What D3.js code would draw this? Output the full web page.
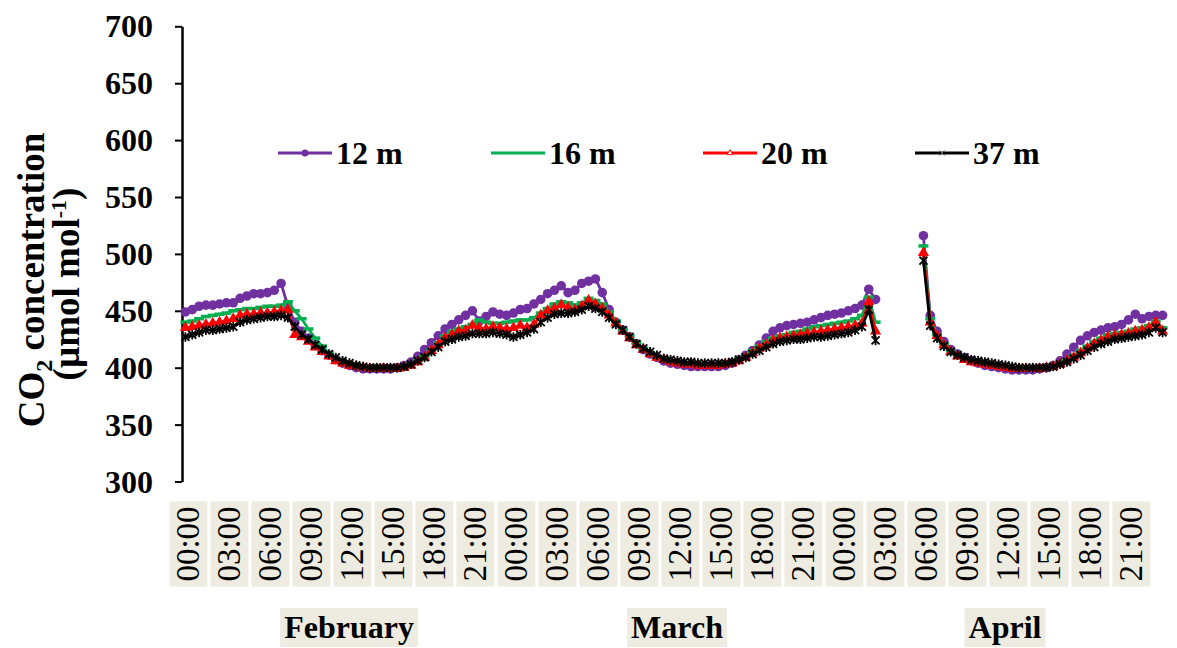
<!DOCTYPE html>
<html>
<head>
<meta charset="utf-8">
<script src="https://cdn.jsdelivr.net/npm/d3@7"></script>
<style>
  html, body { margin: 0; padding: 0; background: #fff; }
  svg { display: block; font-family: 'Liberation Serif', 'Times New Roman', serif; }
</style>
</head>
<body>
<svg id="chart"></svg>
<script>
// categories: three days, half-hourly points, labelled every 3 h
const months = ['February', 'March', 'April'];
const tickLabels = ['00:00', '03:00', '06:00', '09:00', '12:00', '15:00', '18:00', '21:00'];
const pointsPerDay = 48;
const yTicks = [300, 350, 400, 450, 500, 550, 600, 650, 700];

// CO2 (µmol mol-1), one value per half hour, null = gap
const s12 = [
  449, 451, 454, 455, 455, 456, 457, 457, 461, 463,
  465, 465, 466, 468, 474, 454, 440, 432, 426, 420,
  415, 411, 407, 404, 402, 400, 399, 399, 399, 399,
  399, 400, 402, 405, 410, 416, 422, 428, 434, 438,
  442, 446, 450, 441, 445, 449, 447, 446, 448, 451,
  452, 456, 460, 465, 468, 472, 466, 468, 474, 476,
  478, 466, 451, 440, 433, 427, 421, 416, 412, 409,
  406, 404, 403, 402, 401, 401, 401, 401, 401, 402,
  404, 407, 411, 415, 420, 426, 432, 435, 437, 438,
  439, 440, 442, 444, 446, 447, 448, 450, 452, 455,
  469, 460, null, null, null, null, null, null, 516, 446,
  432, 423, 416, 412, 409, 406, 404, 402, 401, 400,
  399, 398, 398, 398, 398, 399, 400, 402, 406, 412,
  418, 424, 428, 431, 433, 435, 436, 438, 442, 447,
  443, 445, 446, 446
];
const s16 = [
  440, 441, 443, 445, 446, 447, 448, 450, 451, 452,
  452, 453, 454, 454, 455, 458, 450, 443, 434, 426,
  419, 413, 408, 405, 403, 401, 400, 400, 400, 400,
  400, 400, 401, 403, 406, 410, 416, 422, 428, 432,
  434, 436, 438, 442, 440, 439, 439, 440, 441, 442,
  442, 444, 448, 452, 456, 458, 457, 455, 457, 461,
  459, 456, 449, 441, 434, 428, 422, 417, 413, 410,
  408, 406, 405, 404, 404, 403, 403, 403, 403, 404,
  405, 408, 411, 415, 419, 423, 426, 428, 429, 431,
  432, 434, 436, 437, 438, 439, 440, 441, 443, 446,
  462, 440, null, null, null, null, null, null, 507, 443,
  429, 421, 415, 411, 408, 406, 405, 404, 403, 402,
  401, 400, 400, 400, 400, 400, 401, 402, 404, 407,
  411, 415, 419, 423, 426, 429, 430, 431, 432, 434,
  435, 437, 441, 435
];
const s20 = [
  435, 436, 437, 438, 439, 440, 441, 443, 446, 447,
  447, 448, 448, 449, 450, 451, 429, 427, 423, 418,
  414, 410, 406, 404, 402, 401, 400, 399, 399, 399,
  399, 399, 400, 402, 405, 409, 415, 420, 426, 429,
  432, 433, 437, 435, 434, 436, 435, 434, 435, 437,
  435, 438, 446, 450, 452, 455, 453, 451, 454, 459,
  456, 452, 446, 439, 432, 426, 420, 416, 412, 409,
  407, 405, 404, 403, 403, 402, 402, 402, 402, 403,
  404, 406, 409, 413, 417, 420, 424, 426, 427, 428,
  429, 430, 431, 432, 433, 434, 435, 436, 437, 439,
  458, 432, null, null, null, null, null, null, 501, 440,
  428, 420, 414, 410, 407, 405, 404, 403, 402, 401,
  400, 399, 399, 399, 399, 399, 400, 401, 403, 406,
  409, 413, 417, 421, 424, 427, 428, 429, 430, 432,
  433, 435, 440, 432
];
const s37 = [
  427, 429, 431, 433, 433, 434, 435, 436, 440, 442,
  443, 444, 445, 445, 446, 444, 436, 429, 425, 420,
  416, 412, 409, 406, 404, 402, 401, 400, 400, 400,
  400, 400, 401, 403, 406, 409, 414, 418, 423, 425,
  427, 428, 430, 430, 430, 431, 430, 429, 427, 429,
  431, 434, 440, 444, 447, 448, 448, 449, 451, 454,
  452, 449, 444, 438, 433, 427, 421, 417, 414, 411,
  408, 407, 406, 405, 405, 404, 404, 404, 404, 404,
  405, 407, 409, 412, 415, 418, 421, 423, 424, 425,
  425, 426, 427, 427, 428, 429, 430, 431, 433, 436,
  451, 424, null, null, null, null, null, null, 494, 437,
  426, 419, 414, 411, 409, 407, 406, 405, 404, 403,
  402, 401, 400, 400, 400, 400, 400, 401, 403, 405,
  408, 411, 415, 418, 421, 423, 425, 426, 427, 428,
  429, 431, 435, 431
];
const seriesNames = ['12 m', '16 m', '20 m', '37 m'];

const width = 1177;
const height = 648;
const marginLeft = 182;
const plotRight = 1166;
const plotTop = 26.3;
const plotBottom = 481.5;
const labelShift = 3; // Excel puts the category labels a bit right of the point centres
const boxFill = '#EEECE1';

const series = [
  { name: seriesNames[0], values: s12, color: '#7030A0', marker: 'circle' },
  { name: seriesNames[1], values: s16, color: '#00B050', marker: 'dash' },
  { name: seriesNames[2], values: s20, color: '#FF0000', marker: 'triangle' },
  { name: seriesNames[3], values: s37, color: '#000000', marker: 'star' },
];

const svg = d3.select('#chart').attr('width', width).attr('height', height).attr('viewBox', [0, 0, width, height]);

const x = d3.scaleBand(d3.range(months.length * pointsPerDay), [marginLeft, plotRight]);
const cx = (i) => x(i) + x.bandwidth() / 2;
const y = d3.scaleLinear([300, 700], [plotBottom, plotTop]);

const markerPath = {
  circle: d3.symbol(d3.symbolCircle, 72)(),
  triangle: d3.symbol(d3.symbolTriangle, 55)(),
  dash: 'M-5,0H5',
  star: 'M-4,-4L4,4M-4,4L4,-4M0,-4.8V4.8',
};
function styleMarker(sel, s) {
  if (s.marker === 'circle' || s.marker === 'triangle') {
    sel.attr('fill', s.color).attr('stroke', 'none');
  } else {
    sel.attr('fill', 'none').attr('stroke', s.color).attr('stroke-width', s.marker === 'dash' ? 3.5 : 1.8);
  }
}

/**
 * y axis
 */
const yAxis = svg
  .append('g')
  .attr('transform', `translate(${marginLeft},0)`)
  .call(d3.axisLeft(y).tickValues(yTicks).tickSize(7).tickSizeOuter(0).tickPadding(22))
  .call((g) => g.select('.domain').attr('stroke', '#000').attr('stroke-width', 2.5))
  .call((g) => g.selectAll('.tick line').attr('stroke', '#000').attr('stroke-width', 2));
yAxis
  .selectAll('.tick text')
  .attr('fill', '#000')
  .attr('dy', '0.33em')
  .attr('font-family', "'Liberation Serif', serif")
  .attr('font-weight', 'bold')
  .attr('font-size', 32);
yAxis.attr('font-family', null).attr('font-size', null);

// axis title, two rotated lines
const title1 = svg
  .append('text')
  .attr('transform', 'translate(44,280) rotate(-90)')
  .attr('text-anchor', 'middle')
  .attr('font-weight', 'bold')
  .attr('font-size', 37);
title1.append('tspan').text('CO');
title1.append('tspan').attr('font-size', 24).attr('dy', 8).text('2');
title1.append('tspan').attr('dy', -8).text(' concentration');

const title2 = svg
  .append('text')
  .attr('transform', 'translate(79,284) rotate(-90)')
  .attr('text-anchor', 'middle')
  .attr('font-weight', 'bold')
  .attr('font-size', 37);
title2.append('tspan').text('(µmol mol');
title2.append('tspan').attr('font-size', 22).attr('dy', -13).text('-1');
title2.append('tspan').attr('dy', 13).text(')');

/**
 * x axis: rotated hour labels in tan boxes, month labels below
 */
const xTicks = d3.range(0, months.length * pointsPerDay, pointsPerDay / tickLabels.length);
const xLabels = svg
  .append('g')
  .selectAll('g')
  .data(xTicks)
  .join('g')
  .attr('transform', (i) => `translate(${cx(i) + labelShift},544) rotate(-90)`);
xLabels
  .append('rect')
  .attr('x', -42.5)
  .attr('y', -19)
  .attr('width', 85)
  .attr('height', 38)
  .attr('fill', boxFill);
xLabels
  .append('text')
  .attr('text-anchor', 'middle')
  .attr('dy', '0.33em')
  .attr('font-size', 33)
  .text((i) => tickLabels[(i % pointsPerDay) / (pointsPerDay / tickLabels.length)]);

const monthLabels = svg
  .append('g')
  .selectAll('g')
  .data(months)
  .join('g')
  .attr('transform', (m, k) => `translate(${x(k * pointsPerDay) + (x.bandwidth() * pointsPerDay) / 2 + labelShift},627.5)`);
monthLabels.append('rect').attr('fill', boxFill);
monthLabels
  .append('text')
  .attr('text-anchor', 'middle')
  .attr('dy', '0.33em')
  .attr('font-weight', 'bold')
  .attr('font-size', 32)
  .text((m) => m);
monthLabels.each(function () {
  const g = d3.select(this);
  const w = g.select('text').node().getComputedTextLength() + 8;
  g.select('rect').attr('x', -w / 2).attr('y', -19.5).attr('width', w).attr('height', 39);
});

/**
 * lines and markers
 */
const line = d3
  .line()
  .defined((v) => v != null)
  .x((v, i) => cx(i))
  .y((v) => y(v));

series.forEach((s) => {
  const g = svg.append('g');
  g.append('path')
    .attr('d', line(s.values))
    .attr('fill', 'none')
    .attr('stroke', s.color)
    .attr('stroke-width', 2.75)
    .attr('stroke-linejoin', 'round');
  g.selectAll('path.marker')
    .data(s.values.map((v, i) => ({ v, i })).filter((p) => p.v != null))
    .join('path')
    .attr('class', 'marker')
    .attr('d', markerPath[s.marker])
    .attr('transform', (p) => `translate(${cx(p.i)},${y(p.v)})`)
    .call(styleMarker, s);
});

/**
 * legend
 */
const legendX = [278, 491, 703, 915];
const legendY = 153;
const legend = svg
  .append('g')
  .selectAll('g')
  .data(series)
  .join('g')
  .attr('transform', (s, k) => `translate(${legendX[k]},${legendY})`);
legend
  .append('line')
  .attr('x2', 54)
  .attr('stroke', (s) => s.color)
  .attr('stroke-width', 3);
legend
  .filter((s) => s.marker === 'circle')
  .append('circle')
  .attr('cx', 27)
  .attr('r', 3.5)
  .attr('fill', (s) => s.color);
legend
  .filter((s) => s.marker === 'triangle')
  .append('path')
  .attr('d', d3.symbol(d3.symbolTriangle, 14)())
  .attr('transform', 'translate(27,0)')
  .attr('fill', '#fff')
  .attr('stroke', (s) => s.color)
  .attr('stroke-width', 1);
legend
  .filter((s) => s.marker === 'star')
  .append('path')
  .attr('d', 'M-2.5,-2.5L2.5,2.5M-2.5,2.5L2.5,-2.5')
  .attr('transform', 'translate(27,0)')
  .attr('stroke', '#555')
  .attr('stroke-width', 1);
legend
  .append('text')
  .attr('x', 58)
  .attr('dy', '0.33em')
  .attr('font-weight', 'bold')
  .attr('font-size', 32)
  .text((s) => s.name);
</script>
</body>
</html>
